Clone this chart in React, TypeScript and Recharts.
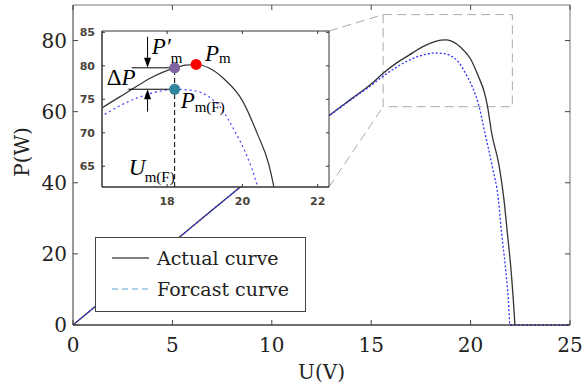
import React from 'react';
import {
  LineChart,
  Line,
  XAxis,
  YAxis,
  ReferenceArea,
  ReferenceLine,
  ReferenceDot,
} from 'recharts';

// P-U curves (U in V, P in W)
const actualU = [0, 2, 4, 6, 8, 10, 12, 13, 14, 15, 15.6, 16.3, 16.9, 17.6, 18.2, 18.5, 18.8, 19.1, 19.5, 20.0, 20.4, 20.7, 20.85, 21.06, 21.44, 21.68, 21.85, 22.02, 22.15, 22.23];
const actualP = [0, 9.3, 18.5, 27.7, 36.9, 46.0, 55.0, 59.4, 63.6, 67.8, 70.8, 73.8, 75.9, 78.3, 79.7, 80.1, 80.2, 79.7, 78.1, 74.8, 69.8, 65.3, 61.5, 54, 44.6, 35.2, 25.8, 16.4, 7, 0];
const forecastU = [0, 2, 4, 6, 8, 10, 12, 13, 14, 15, 15.6, 16.3, 16.8, 17.3, 17.8, 18.2, 18.7, 19.1, 19.4, 19.8, 20.1, 20.4, 20.72, 21.09, 21.4, 21.56, 21.75, 21.9, 21.98, 25];
const forecastP = [0, 9.3, 18.5, 27.7, 36.9, 46.0, 55.0, 59.3, 63.4, 67.4, 70.0, 72.6, 74.2, 75.4, 76.2, 76.5, 76.3, 75.4, 73.9, 70.2, 66.8, 62.0, 54, 44.6, 35.2, 25.8, 16.4, 7, 0, 0];

const mainXTicks = [0, 5, 10, 15, 20, 25];
const mainYTicks = [0, 20, 40, 60, 80];
const insetXTicks = [18, 20, 22];
const insetYTicks = [65, 70, 75, 80, 85];

// marked points: P'm, Pm, Pm(F)
const markU = [18.2, 18.77, 18.2];
const markP = [79.7, 80.2, 76.5];

const actualData = actualU.map((u, i) => ({ u, p: actualP[i] }));
const forecastData = forecastU.map((u, i) => ({ u, p: forecastP[i] }));

// layout (px)
const W = 583;
const H = 387;
const M_L = 73, M_R = 570, M_T = 5, M_B = 325;
const I_L = 102, I_R = 329, I_T = 31, I_B = 187;
const I_BOX_L = 70, I_BOX_T = 26, I_W = 265, I_H = 190;

const X_MAX = 25;
const Y_MAX = 90;
const insetXDom = [16.27, 22.3];
const insetYDom = [61.9, 85.2];
const zoomBoxU = [15.6, 22.1];
const zoomBoxP = [61.4, 87.3];

const pxToU = (px: number) => ((px - M_L) / (M_R - M_L)) * X_MAX;
const pxToP = (py: number) => ((M_B - py) / (M_B - M_T)) * Y_MAX;

const SERIF = 'DejaVu Serif';
const MATH = 'Liberation Serif';

const MainXTick = (props: any) => {
  const { x, y, payload } = props;
  return (
    <g>
      <line x1={x} y1={y} x2={x} y2={y - 5} stroke="#444" />
      <line x1={x} y1={M_T} x2={x} y2={M_T + 5} stroke="#444" />
      <text x={x} y={y + 27} textAnchor="middle" fontFamily={SERIF} fontSize={20} fill="#222">
        {payload.value}
      </text>
    </g>
  );
};

const MainYTick = (props: any) => {
  const { x, y, payload } = props;
  return (
    <g>
      <line x1={x} y1={y} x2={x + 5} y2={y} stroke="#444" />
      <line x1={M_R} y1={y} x2={M_R - 5} y2={y} stroke="#444" />
      <text x={x - 6} y={y} dy="0.35em" textAnchor="end" fontFamily={SERIF} fontSize={20} fill="#222">
        {payload.value}
      </text>
    </g>
  );
};

const IT = I_T - I_BOX_T;
const IR = I_R - I_BOX_L;

const InsetXTick = (props: any) => {
  const { x, y, payload } = props;
  return (
    <g>
      <line x1={x} y1={y} x2={x} y2={y - 3} stroke="#333" />
      <line x1={x} y1={IT} x2={x} y2={IT + 3} stroke="#333" />
      <text x={x} y={y + 18} textAnchor="middle" fontFamily="DejaVu Sans" fontWeight="bold" fontSize={11} fill="#4a4238">
        {payload.value}
      </text>
    </g>
  );
};

const InsetYTick = (props: any) => {
  const { x, y, payload } = props;
  return (
    <g>
      <line x1={x} y1={y} x2={x + 3} y2={y} stroke="#333" />
      <line x1={IR} y1={y} x2={IR - 3} y2={y} stroke="#333" />
      <text x={x - 7} y={y} dy="0.35em" textAnchor="end" fontFamily="DejaVu Sans" fontWeight="bold" fontSize={11} fill="#4a4238">
        {payload.value}
      </text>
    </g>
  );
};

const Arrow = (props: any) => {
  const { x1, y1, x2, y2 } = props;
  const dx = x2 - x1;
  const dy = y2 - y1;
  const len = Math.sqrt(dx * dx + dy * dy) || 1;
  const ux = dx / len;
  const uy = dy / len;
  const bx = x2 - ux * 10;
  const by = y2 - uy * 10;
  const px = -uy * 3.5;
  const py = ux * 3.5;
  return (
    <g>
      <line x1={x1} y1={y1} x2={bx} y2={by} stroke="#000" strokeWidth={1} />
      <polygon points={`${x2},${y2} ${bx + px},${by + py} ${bx - px},${by - py}`} fill="#000" />
    </g>
  );
};

const UpperBar = (props: any) => {
  const { x1, y1, x2, y2 } = props;
  const lx = Math.min(x1, x2);
  return (
    <g>
      <line x1={x1} y1={y1} x2={x2} y2={y2} stroke="#000" />
      <text x={lx - 25} y={y1 + 17} fontFamily={MATH} fontSize={23} fill="#000">
        Δ<tspan fontStyle="italic">P</tspan>
      </text>
    </g>
  );
};

const UmLine = (props: any) => {
  const { x1, y1, x2, y2 } = props;
  const by = Math.max(y1, y2);
  return (
    <g>
      <line x1={x1} y1={y1} x2={x2} y2={y2} stroke="#000" strokeDasharray="5 3" />
      <text x={x1 - 46} y={by - 12} fontFamily={MATH} fontStyle="italic" fontSize={23} fill="#000">U</text>
      <text x={x1 - 30} y={by - 5} fontFamily={MATH} fontSize={15} fill="#000">m(F)</text>
    </g>
  );
};

const PrimeDot = (props: any) => {
  const { cx, cy } = props;
  return (
    <g>
      <circle cx={cx} cy={cy} r={5.5} fill="#8064a2" />
      <text x={cx - 23} y={cy - 14} fontFamily={MATH} fontStyle="italic" fontSize={23} fill="#000">P′</text>
      <text x={cx - 4} y={cy - 4.5} fontFamily={MATH} fontSize={15} fill="#000">m</text>
    </g>
  );
};

const PeakDot = (props: any) => {
  const { cx, cy } = props;
  return (
    <g>
      <circle cx={cx} cy={cy} r={5.5} fill="#ff0000" />
      <text x={cx + 9} y={cy - 3} fontFamily={MATH} fontStyle="italic" fontSize={23} fill="#000">P</text>
      <text x={cx + 23} y={cy - 1} fontFamily={MATH} fontSize={15} fill="#000">m</text>
    </g>
  );
};

const ForecastDot = (props: any) => {
  const { cx, cy } = props;
  return (
    <g>
      <circle cx={cx} cy={cy} r={5.5} fill="#31859c" />
      <text x={cx + 6} y={cy + 19} fontFamily={MATH} fontStyle="italic" fontSize={23} fill="#000">P</text>
      <text x={cx + 20} y={cy + 23} fontFamily={MATH} fontSize={15} fill="#000">m(F)</text>
    </g>
  );
};

const MainChart = () => (
  <LineChart width={W} height={H} margin={{ top: M_T, right: W - M_R, bottom: H - M_B - 40, left: M_L - 60 }}>
    <XAxis
      type="number"
      dataKey="u"
      domain={[0, X_MAX]}
      ticks={mainXTicks}
      interval={0}
      height={40}
      tickSize={0}
      tickMargin={0}
      tickLine={false}
      tick={<MainXTick />}
      axisLine={{ stroke: '#222' }}
      label={{
        content: (p: any) => {
          const vb = p.viewBox;
          return (
            <text x={vb.x + vb.width / 2} y={vb.y + 54} textAnchor="middle" fontFamily={SERIF} fontSize={20} fill="#222">
              U(V)
            </text>
          );
        },
      }}
    />
    <YAxis
      type="number"
      domain={[0, Y_MAX]}
      ticks={mainYTicks}
      interval={0}
      width={60}
      tickSize={0}
      tickMargin={0}
      tickLine={false}
      tick={<MainYTick />}
      axisLine={{ stroke: '#777' }}
      label={{
        content: (p: any) => {
          const vb = p.viewBox;
          const cx = vb.x + 9;
          const cy = vb.y + vb.height / 2 - 13;
          return (
            <text x={cx} y={cy} transform={`rotate(-90 ${cx} ${cy})`} textAnchor="middle" dominantBaseline="central" fontFamily={SERIF} fontSize={20} fill="#222">
              P(W)
            </text>
          );
        },
      }}
    />
    <ReferenceArea x1={0} x2={X_MAX} y1={0} y2={Y_MAX} fill="none" stroke="#777" strokeWidth={1} />
    <ReferenceArea
      x1={zoomBoxU[0]}
      x2={zoomBoxU[1]}
      y1={zoomBoxP[0]}
      y2={zoomBoxP[1]}
      fill="none"
      stroke="#aaa"
      strokeDasharray="9 5"
    />
    <ReferenceLine
      segment={[{ x: pxToU(I_R), y: pxToP(I_T) }, { x: zoomBoxU[0], y: zoomBoxP[1] }]}
      stroke="#aaa"
      strokeDasharray="9 5"
    />
    <ReferenceLine
      segment={[{ x: pxToU(I_R), y: pxToP(I_B) }, { x: zoomBoxU[0], y: zoomBoxP[0] }]}
      stroke="#aaa"
      strokeDasharray="9 5"
    />
    <Line data={actualData} dataKey="p" type="monotone" stroke="#333" strokeWidth={1.3} dot={false} isAnimationActive={false} />
    <Line data={forecastData} dataKey="p" type="monotone" stroke="#3030ff" strokeWidth={1.3} strokeDasharray="2 2" dot={false} isAnimationActive={false} />
  </LineChart>
);

const InsetChart = () => (
  <LineChart width={I_W} height={I_H} margin={{ top: IT, right: I_W - IR, bottom: 5, left: 5 }}>
    <XAxis
      type="number"
      dataKey="u"
      domain={insetXDom}
      allowDataOverflow
      ticks={insetXTicks}
      interval={0}
      height={24}
      tickSize={0}
      tickMargin={0}
      tickLine={false}
      tick={<InsetXTick />}
      axisLine={{ stroke: '#333' }}
    />
    <YAxis
      type="number"
      domain={insetYDom}
      allowDataOverflow
      ticks={insetYTicks}
      interval={0}
      width={27}
      tickSize={0}
      tickMargin={0}
      tickLine={false}
      tick={<InsetYTick />}
      axisLine={{ stroke: '#333' }}
    />
    <ReferenceArea x1={insetXDom[0]} x2={insetXDom[1]} y1={insetYDom[0]} y2={insetYDom[1]} fill="none" stroke="#333" />
    <Line data={actualData} dataKey="p" type="monotone" stroke="#333" strokeWidth={1.2} dot={false} isAnimationActive={false} />
    <Line data={forecastData} dataKey="p" type="monotone" stroke="#4040ff" strokeWidth={1.2} strokeDasharray="2 3" dot={false} isAnimationActive={false} />
    <ReferenceLine segment={[{ x: markU[0], y: insetYDom[0] }, { x: markU[0], y: markP[0] }]} shape={<UmLine />} />
    <ReferenceLine segment={[{ x: 17.06, y: markP[0] }, { x: markU[0], y: markP[0] }]} shape={<UpperBar />} />
    <ReferenceLine segment={[{ x: 16.97, y: markP[2] }, { x: markU[2], y: markP[2] }]} stroke="#000" />
    <ReferenceLine segment={[{ x: 17.48, y: 84.35 }, { x: 17.48, y: markP[0] }]} shape={<Arrow />} />
    <ReferenceLine segment={[{ x: 17.48, y: 73.15 }, { x: 17.48, y: markP[2] }]} shape={<Arrow />} />
    <ReferenceDot x={markU[0]} y={markP[0]} r={5.5} shape={<PrimeDot />} />
    <ReferenceDot x={markU[1]} y={markP[1]} r={5.5} shape={<PeakDot />} />
    <ReferenceDot x={markU[2]} y={markP[2]} r={5.5} shape={<ForecastDot />} />
  </LineChart>
);

const LegendBox = () => (
  <div
    style={{
      position: 'absolute',
      left: 95,
      top: 237,
      width: 209,
      height: 73,
      border: '1px solid #444',
      background: '#fff',
    }}
  >
    <svg width={209} height={73}>
      <line x1={16} y1={20} x2={53} y2={20} stroke="#000" strokeWidth={1} />
      <text x={61} y={20} dy="0.35em" fontFamily={SERIF} fontSize={19} fill="#222">Actual curve</text>
      <line x1={16} y1={51} x2={53} y2={51} stroke="#58a6c8" strokeWidth={1.2} strokeDasharray="6 4" />
      <text x={61} y={51} dy="0.35em" fontFamily={SERIF} fontSize={19} fill="#222">Forcast curve</text>
    </svg>
  </div>
);

export default function App() {
  return (
    <div style={{ position: 'absolute', left: 0, top: 0, width: W, height: H, background: '#fff' }}>
      <MainChart />
      <div
        style={{
          position: 'absolute',
          left: I_L,
          top: I_T,
          width: I_R - I_L,
          height: I_B - I_T,
          background: '#fff',
        }}
      />
      <div style={{ position: 'absolute', left: I_BOX_L, top: I_BOX_T }}>
        <InsetChart />
      </div>
      <LegendBox />
    </div>
  );
}
